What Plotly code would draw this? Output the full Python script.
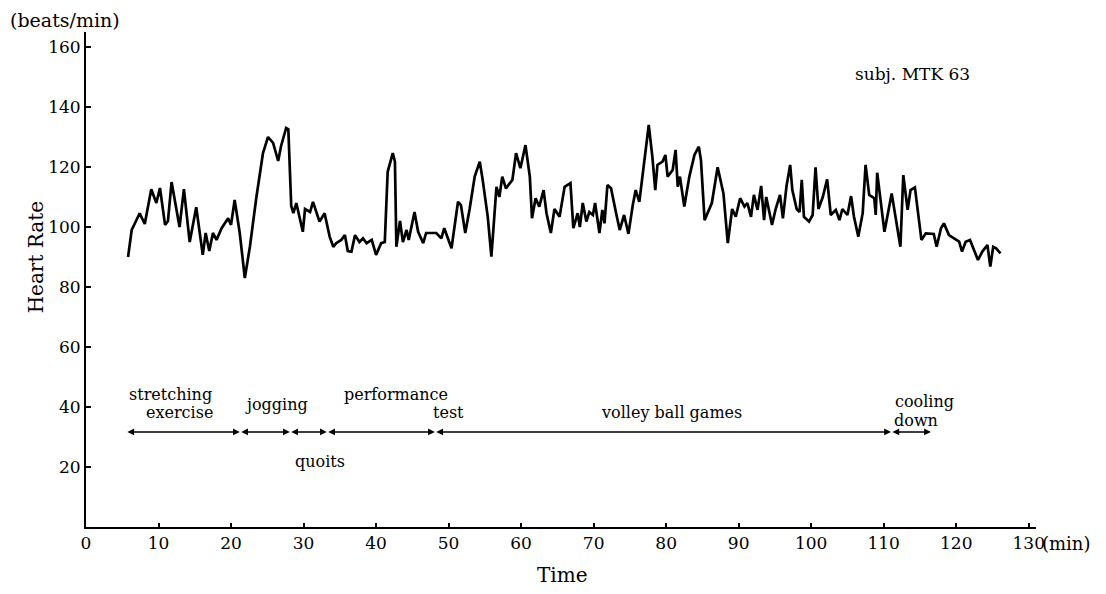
import plotly.graph_objects as go

# ---- data ----
time_min = [5.8, 6.3, 6.7, 7.4, 8.1, 9.0, 9.7, 10.2, 10.9, 11.3, 11.8, 12.9, 13.5, 14.3, 15.2, 16.1, 16.5, 17.0,
            17.5, 18.0, 18.7, 19.6, 20.0, 20.5, 21.2, 21.9, 22.6, 23.5, 24.4, 25.1, 25.8, 26.5, 26.9, 27.6, 27.9,
            28.3, 28.6, 29.0, 29.9, 30.2, 30.9, 31.3, 32.2, 32.9, 33.6, 34.1, 34.5, 35.2, 35.7, 36.1,
            36.6, 37.1, 37.7, 38.2, 38.7, 39.4, 40.0, 40.7, 41.2, 41.6, 42.3, 42.6, 42.8, 43.3, 43.7, 44.2, 44.5,
            45.3, 45.8, 46.5, 46.9, 48.3, 49.0, 49.4, 50.4, 51.3, 51.7, 52.3, 52.9, 53.6, 54.3, 54.7, 55.4, 55.9,
            56.6, 57.0, 57.4, 57.9, 58.8, 59.3, 59.9, 60.6, 61.2, 61.5, 62.0, 62.5, 63.1, 63.5, 64.1, 64.6, 65.3,
            66.0, 66.8, 67.2, 67.8, 68.1, 68.5, 69.0, 69.4, 69.9, 70.2, 70.8, 71.2, 71.5, 71.9, 72.4, 73.1, 73.6,
            74.2, 74.8, 75.4, 75.8, 76.3, 76.8, 77.6, 78.1, 78.5, 78.8, 79.5, 79.9, 80.2, 80.9, 81.3, 81.6, 81.9,
            82.5, 83.2, 83.9, 84.5, 84.8, 85.3, 86.3, 87.1, 87.9, 88.5, 89.1, 89.6, 90.2, 90.8, 91.2, 91.7, 92.1,
            92.6, 93.1, 93.5, 93.8, 94.6, 95.1, 95.7, 96.1, 96.6, 97.1, 97.4, 98.0, 98.4, 98.7, 99.0, 99.5,
            99.7, 100.2, 100.6, 101.0, 101.6, 102.2, 102.7, 103.4, 103.9, 104.3, 105.0, 105.5, 105.9, 106.5,
            107.1, 107.5, 108.0, 108.7, 108.9, 109.1, 110.1, 111.1, 111.7, 112.3, 112.7, 113.3, 113.7, 114.3,
            115.2, 115.8, 116.9, 117.3, 117.9, 118.3, 119.0, 119.7, 120.4, 120.8, 121.3, 121.9, 122.5, 123.0,
            123.6, 124.3, 124.7, 125.1, 125.5, 126.1]
heart_rate = [90, 99, 101, 104.6, 101, 112.6, 108, 113, 100.7, 102, 115, 100, 112.6, 95, 106.6, 90.7, 98, 92,
              98, 95.7, 99.6, 102.9, 100.7, 109, 98, 83, 93.4, 110, 124.6, 130, 128, 122, 127, 133, 132.6,
              107, 104.6, 108, 98.4, 106, 105, 108.4, 101.8, 104.6, 96.8, 93.4, 94.6, 95.7, 97.3, 92,
              91.8, 97.3, 95, 96.2, 94.6, 95.7, 90.7, 94.6, 95, 118.4, 124.6, 121.8, 93.4, 102, 95, 99, 95.7,
              105, 98.4, 94.6, 98, 98, 96.2, 99.6, 92.9, 108.4, 107.3, 98, 106, 116.8, 121.8, 115.7, 103.4, 90.1,
              113.4, 110, 116.8, 112.9, 115.7, 124.6, 119.6, 127.3, 116.8, 102.9, 109.6, 106.8, 112.3, 104.6, 98, 106, 103.4,
              113.4, 114.6, 99.6, 104.6, 100, 108, 101.8, 105, 104, 108, 98, 105.7, 101.2, 114, 112.9, 104.6, 99,
              104, 97.7, 107.3, 112.3, 108.4, 119, 134, 123.4, 112.3, 120.7, 121.8, 124, 116.8, 119, 125.7, 113.4, 116.8,
              106.8, 116.8, 124, 126.8, 122.3, 102.3, 108, 119.9, 111.2, 94.6, 106, 103.4, 109.6, 106.8, 108, 103.4, 110.7,
              105.7, 113.7, 102.3, 110, 100.7, 106, 110.7, 102.9, 113.7, 120.7, 112.3, 106, 105, 115.7, 103.4, 102.3,
              101.8, 104, 119.9, 106, 110, 115.9, 104, 105.7, 102.3, 106, 104, 110.3, 103.4, 96.8,
              104.6, 120.7, 110.7, 109.6, 104, 118.1, 98.4, 111.2, 101.8, 93.4, 117.3, 105.7, 112.3, 113.2,
              95.7, 97.9, 97.7, 93.4, 99.6, 101.2, 97.3, 96.2, 95.1, 91.8, 95.1, 95.7, 92.3, 89,
              91.8, 94, 86.8, 93.4, 92.9, 91.2]

x_ticks = [0, 10, 20, 30, 40, 50, 60, 70, 80, 90, 100, 110, 120, 130]
y_ticks = [20, 40, 60, 80, 100, 120, 140, 160]

# phase boundaries (min) and the level of the phase arrows (beats/min)
phase_bounds = [5.5, 21.2, 28.1, 33.2, 48.1, 111.0, 116.5]
phase_level = 31.7

FONT = "DejaVu Serif"

fig = go.Figure()
fig.add_trace(go.Scatter(x=time_min, y=heart_rate, mode="lines",
                         line=dict(color="black", width=2.7), showlegend=False,
                         hoverinfo="skip"))

annotations = []
# phase arrows
for a, b in zip(phase_bounds[:-1], phase_bounds[1:]):
    annotations.append(dict(x=b, y=phase_level, ax=a, ay=phase_level, xref="x", yref="y",
                            axref="x", ayref="y", text="", showarrow=True,
                            arrowhead=2, arrowside="end+start", arrowsize=0.9,
                            arrowwidth=1.5, arrowcolor="black", standoff=0, startstandoff=0))

labels = [
    ("stretching", 11.7, 44.2), ("exercise", 12.9, 38.2), ("jogging", 26.3, 40.7),
    ("performance", 42.8, 44.2), ("test", 50.0, 38.2), ("quoits", 32.2, 21.7),
    ("volley ball games", 80.7, 38.3), ("cooling", 115.6, 41.7), ("down", 114.5, 35.4),
]
for txt, xx, yy in labels:
    annotations.append(dict(x=xx, y=yy, xref="x", yref="y", text=txt, showarrow=False,
                            font=dict(family=FONT, size=16, color="black"),
                            xanchor="center", yanchor="middle"))

annotations += [
    dict(x=-0.082, y=1.024, xref="paper", yref="paper", text="(beats/min)", showarrow=False,
         xanchor="left", yanchor="middle", font=dict(family=FONT, size=19, color="black")),
    dict(x=-0.053, y=0.544, xref="paper", yref="paper", text="Heart Rate", showarrow=False,
         textangle=-90, xanchor="center", yanchor="middle",
         font=dict(family=FONT, size=20, color="black")),
    dict(x=0.502, y=-0.097, xref="paper", yref="paper", text="Time", showarrow=False,
         xanchor="center", yanchor="middle", font=dict(family=FONT, size=20, color="black")),
    dict(x=1.004, y=-0.033, xref="paper", yref="paper", text="(min)", showarrow=False,
         xanchor="left", yanchor="middle", font=dict(family=FONT, size=18, color="black")),
    dict(x=0.87, y=0.915, xref="paper", yref="paper", text="subj. MTK 63", showarrow=False,
         xanchor="center", yanchor="middle", font=dict(family=FONT, size=17, color="black")),
]

fig.update_layout(
    width=1106, height=594,
    margin=dict(l=86, r=70, t=32, b=67),
    paper_bgcolor="white", plot_bgcolor="white",
    font=dict(family=FONT, size=17, color="black"),
    annotations=annotations,
    xaxis=dict(range=[0, 131], tickvals=x_ticks, ticks="inside", ticklen=4, tickwidth=1.5,
               tickcolor="black", showline=True, linecolor="black", linewidth=2,
               showgrid=False, zeroline=False, tickfont=dict(family=FONT, size=17)),
    yaxis=dict(range=[0, 165], tickvals=y_ticks, ticks="inside", ticklen=5, tickwidth=1.5,
               tickcolor="black", showline=True, linecolor="black", linewidth=2,
               showgrid=False, zeroline=False, tickfont=dict(family=FONT, size=17)),
)

fig.write_html("out.html")
